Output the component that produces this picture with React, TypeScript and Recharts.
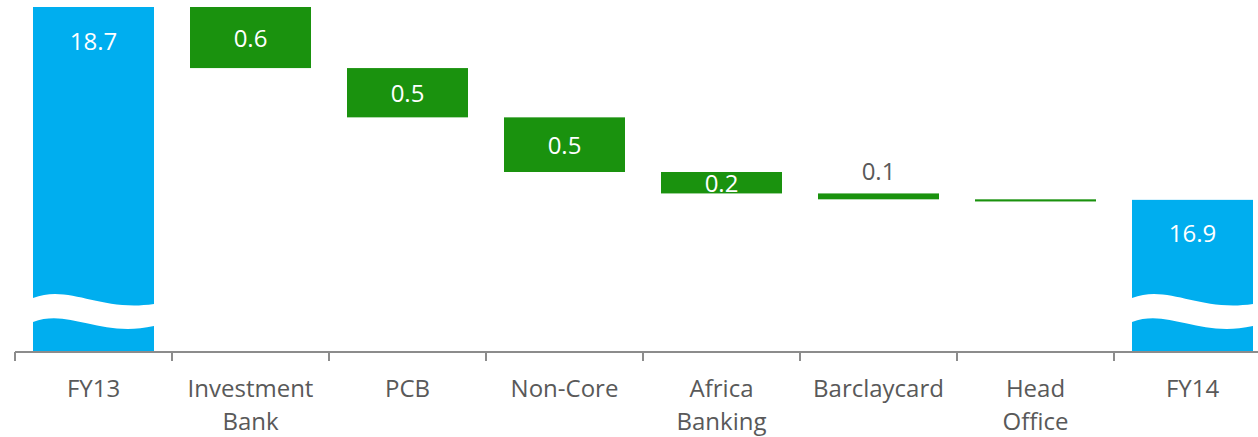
import React from 'react';
import { BarChart, Bar, XAxis, YAxis, Cell, LabelList } from 'recharts';

const categories = ['FY13', 'Investment\nBank', 'PCB', 'Non-Core', 'Africa\nBanking', 'Barclaycard', 'Head\nOffice', 'FY14'];
const startTotal = 18.7;
const endTotal = 16.9;
const deltas = [0.57, 0.46, 0.51, 0.2, 0.055, 0.02];
const valueLabels = ['18.7', '0.6', '0.5', '0.5', '0.2', '0.1', '', '16.9'];
const axisMin = 15.48;
const axisMax = 18.7;

const BLUE = '#00AEEF';
const GREEN = '#1A920E';
const GREY_TEXT = '#595959';
const AXIS = '#8C8C8C';
const FONT = '"Open Sans", "Noto Sans", sans-serif';

const CHART_W = 1290;
const CHART_H = 437;
const MARGIN = { top: 7, right: 19, left: 15, bottom: 0 };
const HALF_BAND = (CHART_W - MARGIN.left - MARGIN.right) / categories.length / 2;

type Row = { name: string; range: [number, number]; kind: 'total' | 'delta' };

const data: Row[] = (() => {
  const rows: Row[] = [];
  rows.push({ name: categories[0], range: [axisMin, startTotal], kind: 'total' });
  let running = startTotal;
  deltas.forEach((d, i) => {
    rows.push({ name: categories[i + 1], range: [running - d, running], kind: 'delta' });
    running -= d;
  });
  rows.push({ name: categories[categories.length - 1], range: [axisMin, endTotal], kind: 'total' });
  return rows;
})();

const BarShape = (props: any) => {
  const { x, y, width, height, fill, index } = props;
  const row = data[index];
  if (!row) return null;
  const b = y + height;
  const w = width;
  return (
    <g>
      <rect x={x} y={y} width={width} height={height} fill={fill} />
      {row.kind === 'total' && (
        <path
          d={`M ${x} ${b - 54} C ${x + 0.3 * w} ${b - 68} ${x + 0.55 * w} ${b - 40} ${x + w} ${b - 48} L ${x + w} ${b - 26} C ${x + 0.55 * w} ${b - 14} ${x + 0.3 * w} ${b - 44} ${x} ${b - 30} Z`}
          fill="#FFFFFF"
        />
      )}
    </g>
  );
};

const renderValueLabel = (props: any) => {
  const { x, y, width, height, index } = props;
  const text = valueLabels[index];
  if (!text) return null;
  const row = data[index];
  const cx = x + width / 2;
  let ty: number;
  let fill: string;
  if (row.kind === 'total') {
    ty = y + 33;
    fill = '#FFFFFF';
  } else if (Math.abs(height) > 15) {
    ty = y + height / 2;
    fill = '#FFFFFF';
  } else {
    ty = y - 23;
    fill = GREY_TEXT;
  }
  return (
    <text x={cx} y={ty} textAnchor="middle" dominantBaseline="central" fill={fill} fontSize={24} fontFamily={FONT}>
      {text}
    </text>
  );
};

const CategoryTick = (props: any) => {
  const { x, y, payload, index } = props;
  const lines = String(payload.value).split('\n');
  const isLast = index === categories.length - 1;
  return (
    <g>
      <line x1={x - HALF_BAND} x2={x - HALF_BAND} y1={y} y2={y + 9} stroke={AXIS} strokeWidth={2} />
      {isLast && <line x1={x + HALF_BAND} x2={x + HALF_BAND} y1={y} y2={y + 9} stroke={AXIS} strokeWidth={2} />}
      <text x={x} y={y} textAnchor="middle" fill={GREY_TEXT} fontSize={24} fontFamily={FONT}>
        {lines.map((l, i) => (
          <tspan key={i} x={x} dy={i === 0 ? 45 : 33}>
            {l}
          </tspan>
        ))}
      </text>
    </g>
  );
};

export default function App() {
  return (
    <div style={{ position: 'absolute', left: 0, top: 0, width: 1258, height: 437, overflow: 'hidden', background: '#fff' }}>
      <BarChart width={CHART_W} height={CHART_H} data={data} margin={MARGIN} barSize={121}>
        <XAxis
          dataKey="name"
          type="category"
          interval={0}
          axisLine={{ stroke: AXIS, strokeWidth: 2 }}
          tickLine={false}
          tickSize={0}
          tickMargin={0}
          tick={<CategoryTick />}
          height={85}
        />
        <YAxis hide domain={[axisMin, axisMax]} allowDataOverflow />
        <Bar dataKey="range" isAnimationActive={false} shape={<BarShape />}>
          {data.map((r, i) => (
            <Cell key={i} fill={r.kind === 'total' ? BLUE : GREEN} />
          ))}
          <LabelList dataKey="range" content={renderValueLabel} />
        </Bar>
      </BarChart>
    </div>
  );
}
